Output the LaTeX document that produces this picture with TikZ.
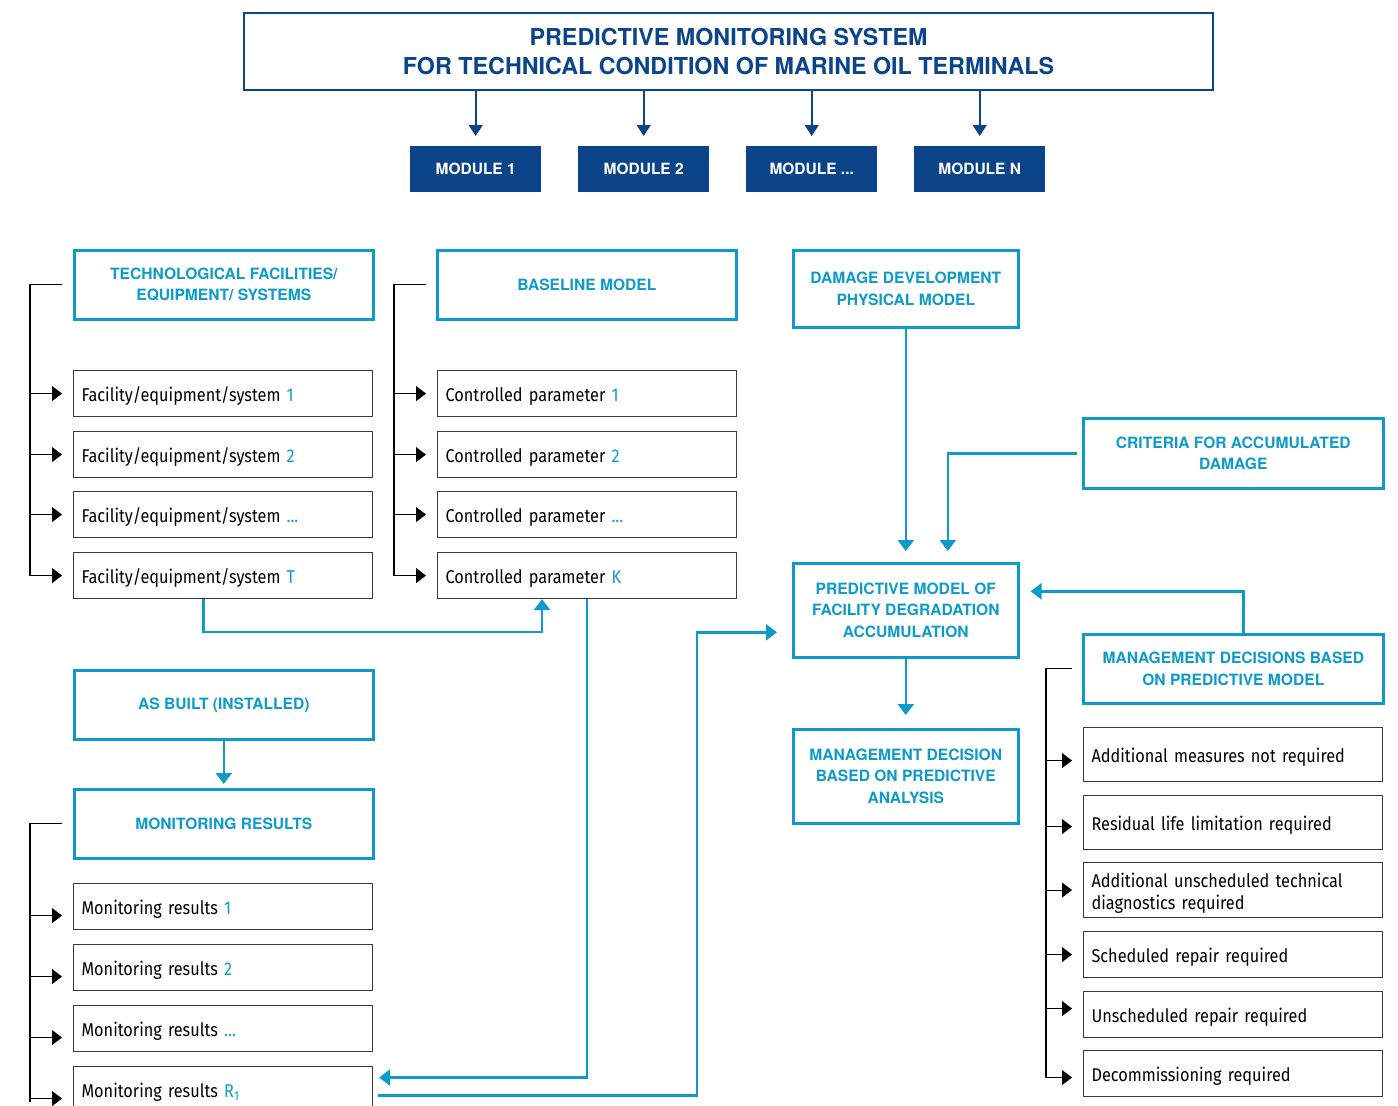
\documentclass[tikz,border=0pt]{standalone}
\usepackage{fontspec}
\setmainfont{Fira Sans}
\newfontfamily\bodyfont{Fira Sans}[FakeStretch=0.88]
\newfontfamily\headfont{TeX Gyre Heros}
\usetikzlibrary{arrows.meta}
\definecolor{dkb}{HTML}{0B4488}
\definecolor{cyb}{HTML}{0E9BC9}
\definecolor{gline}{HTML}{3A3A3A}
\tikzset{
  titlebox/.style={draw=dkb, line width=2.2pt, minimum width=969pt, minimum height=77pt, anchor=north west, align=center, text=dkb, font=\headfont\bfseries\fontsize{23.3}{29}\selectfont},
  modbox/.style={fill=dkb, minimum width=131pt, minimum height=46pt, anchor=north west, text=white, font=\headfont\bfseries\fontsize{15.5}{18}\selectfont},
  headbox/.style={draw=cyb, line width=2.6pt, minimum width=299pt, anchor=north west, align=center, text=cyb, font=\headfont\bfseries\fontsize{15.6}{21.5}\selectfont},
  itembox/.style={draw=gline, line width=1.1pt, text width=283pt, inner xsep=8pt, minimum height=46pt, text height=17pt, text depth=1pt, anchor=north west, align=left, font=\bodyfont\fontsize{18.5}{22}\selectfont},
  darr/.style={draw=dkb, line width=2pt, -{Triangle[length=11pt,width=14pt]}},
  carr/.style={draw=cyb, line width=2.6pt, -{Triangle[length=11pt,width=16pt]}},
  cline/.style={draw=cyb, line width=2.6pt},
  barr/.style={draw=black, line width=1.1pt, -{Triangle[length=10pt,width=15pt]}},
  bline/.style={draw=black, line width=1.1pt},
}
\newcommand{\cy}[1]{{\color{cyb}#1}}
\begin{document}
\begin{tikzpicture}[x=1pt,y=-1pt]
\useasboundingbox (0,0) rectangle (1398,1106);
\clip (0,0) rectangle (1398,1106);
% title
\node[titlebox] (title) at (243,12) {PREDICTIVE MONITORING SYSTEM\\FOR TECHNICAL CONDITION OF MARINE OIL TERMINALS};
\node[modbox] (m1) at (410,146) {MODULE 1};
\node[modbox] (m2) at (578,146) {MODULE 2};
\node[modbox] (m3) at (746,146) {MODULE ...};
\node[modbox] (m4) at (914,146) {MODULE N};
\foreach \m in {m1,m2,m3,m4}{
  \draw[darr, shorten >=10pt] (title.south -| \m.north) -- (\m.north);
}
% left column
\node[headbox, minimum height=69pt] (tf) at (73,249) {TECHNOLOGICAL FACILITIES/\\EQUIPMENT/ SYSTEMS};
\node[itembox] (f1) at (73,370) {Facility/equipment/system \cy{1}};
\node[itembox] (f2) at (73,431) {Facility/equipment/system \cy{2}};
\node[itembox] (f3) at (73,491) {Facility/equipment/system \cy{...}};
\node[itembox] (f4) at (73,552) {Facility/equipment/system \cy{T}};
\coordinate (lbx) at (30,0);
\draw[bline] ([xshift=-11pt]tf.west) -- (lbx |- tf.west) -- (lbx |- f4.west);
\foreach \f in {f1,f2,f3,f4}{
  \draw[barr, shorten >=11pt] (lbx |- \f.west) -- (\f.west);
}
% baseline model
\node[headbox, minimum height=69pt] (bm) at (436,249) {BASELINE MODEL};
\node[itembox] (c1) at (437,370) {Controlled parameter \cy{1}};
\node[itembox] (c2) at (437,431) {Controlled parameter \cy{2}};
\node[itembox] (c3) at (437,491) {Controlled parameter \cy{...}};
\node[itembox] (c4) at (437,552) {Controlled parameter \cy{K}};
\coordinate (bbx) at (394,0);
\draw[bline] ([xshift=-10pt]bm.west) -- (bbx |- bm.west) -- (bbx |- c4.west);
\foreach \c in {c1,c2,c3,c4}{
  \draw[barr, shorten >=11pt] (bbx |- \c.west) -- (\c.west);
}
% as built / monitoring
\node[headbox, minimum height=69pt] (ab) at (73,669) {AS BUILT (INSTALLED)};
\node[headbox, minimum height=69pt] (mr) at (73,788) {MONITORING RESULTS};
\draw[carr, shorten >=4pt] (ab.south) -- (mr.north);
\node[itembox] (r1) at (73,883) {Monitoring results \cy{1}};
\node[itembox] (r2) at (73,944) {Monitoring results \cy{2}};
\node[itembox] (r3) at (73,1005) {Monitoring results \cy{...}};
\node[itembox, minimum height=46pt] (r4) at (73,1066) {Monitoring results \cy{R\textsubscript{1}}};
\coordinate (mbx) at (30,0);
\draw[bline] ([xshift=-11pt]mr.west) -- (mbx |- mr.west) -- ([yshift=-12pt]mbx |- r4.west);
\foreach \r in {r1,r2,r3,r4}{
  \draw[barr, shorten >=11pt] ([yshift=-9pt]mbx |- \r.west) -- ([yshift=-9pt]\r.west);
}
% right-middle column
\node[headbox, minimum width=225pt, minimum height=77pt] (dd) at (792,249) {DAMAGE DEVELOPMENT\\PHYSICAL MODEL};
\node[headbox, minimum width=225pt, minimum height=94pt] (pm) at (792,562) {PREDICTIVE MODEL OF\\FACILITY DEGRADATION\\ACCUMULATION};
\node[headbox, minimum width=225pt, minimum height=94pt] (md) at (792,728) {MANAGEMENT DECISION\\BASED ON PREDICTIVE\\ANALYSIS};
\node[headbox, minimum width=300pt, minimum height=70pt] (cr) at (1082,417) {CRITERIA FOR ACCUMULATED\\DAMAGE};
\node[headbox, minimum width=300pt, minimum height=69pt] (mdb) at (1082,633) {MANAGEMENT DECISIONS BASED\\ON PREDICTIVE MODEL};
\draw[carr, shorten >=11pt] (dd.south) -- (pm.north);
\draw[carr] ([xshift=-5pt]cr.west) -| ([xshift=42pt,yshift=11pt]pm.north);
\draw[carr, shorten >=13pt] (pm.south) -- (md.north);
\draw[carr] ([xshift=10pt]mdb.north) |- ([xshift=11pt,yshift=19pt]pm.east);
% cross connectors
\draw[carr] ([xshift=-19.5pt]f4.south) -- ++(0,33) -| ([xshift=-45pt]c4.south);
\draw[carr] (c4.south) |- ([xshift=6pt,yshift=12pt]r4.east);
\draw[carr] ([xshift=5pt,yshift=-6pt]r4.east) -| ([xshift=-95pt,yshift=-22pt]pm.west) -- ([xshift=-15pt,yshift=-22pt]pm.west);
% right column items
\node[itembox, minimum height=54pt] (d1) at (1083,727) {Additional measures not required};
\node[itembox, minimum height=54pt] (d2) at (1083,795) {Residual life limitation required};
\node[itembox, minimum height=55pt, text depth=23pt] (d3) at (1083,862) {Additional unscheduled technical\\diagnostics required};
\node[itembox, minimum height=46pt] (d4) at (1083,931) {Scheduled repair required};
\node[itembox, minimum height=46pt] (d5) at (1083,991) {Unscheduled repair required};
\node[itembox, minimum height=46pt] (d6) at (1083,1050) {Decommissioning required};
\coordinate (rbx) at (1046,0);
\draw[bline] ([xshift=-10pt]mdb.west) -- (rbx |- mdb.west) -- ([yshift=-4pt]rbx |- d6.west);
\draw[barr, shorten >=11pt] ([yshift=-6pt]rbx |- d1.west) -- ([yshift=-6pt]d1.west);
\draw[barr, shorten >=11pt] ([yshift=-4pt]rbx |- d2.west) -- ([yshift=-4pt]d2.west);
\draw[barr, shorten >=11pt] (rbx |- d3.west) -- (d3.west);
\draw[barr, shorten >=11pt] (rbx |- d4.west) -- (d4.west);
\draw[barr, shorten >=11pt] ([yshift=6pt]rbx |- d5.west) -- ([yshift=6pt]d5.west);
\draw[barr, shorten >=11pt] ([yshift=-4pt]rbx |- d6.west) -- ([yshift=-4pt]d6.west);
\end{tikzpicture}
\end{document}
